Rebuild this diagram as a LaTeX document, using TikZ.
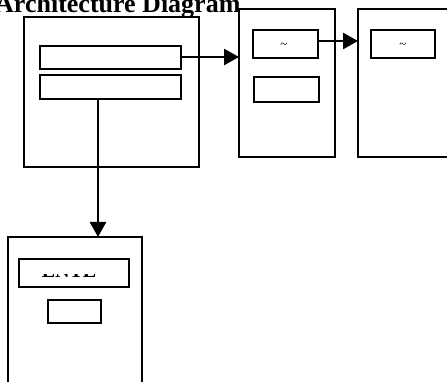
\documentclass[tikz,border=0pt]{standalone}
\usepackage{fontspec}
\setmainfont{Liberation Serif}
\usetikzlibrary{arrows.meta}
\begin{document}
\begin{tikzpicture}[x=1pt,y=-1pt,
  box/.style={draw=black,line width=2.6pt,fill=white},
  conn/.style={line width=2.6pt,-{Triangle[length=15pt,width=16pt]}},
  tilde/.style={font=\fontsize{13}{14}\selectfont,inner sep=0pt}]
\useasboundingbox (0,0) rectangle (447,382);
\clip (0,0) rectangle (447,382);
\fill[white] (0,0) rectangle (447,382);
% title
\node[anchor=base west,inner sep=0pt,font=\fontsize{26}{28}\selectfont\bfseries] (title) at (-5,13) {Architecture Diagram};
% box 1
\draw[box] (24,17) rectangle (199,167);
\draw[box] (40,46) rectangle (181,69);
\draw[box] (40,75) rectangle (181,99);
\coordinate (r1e) at (181,57);
\coordinate (r2s) at (98,99);
% box 2
\draw[box] (239,9) rectangle (335,157);
\draw[box] (253,30) rectangle (318,58);
\node[tilde] (t1) at (284,46) {\textasciitilde};
\draw[box] (254,77) rectangle (319,102);
\coordinate (b2w) at (239,57);
\coordinate (ra) at (318,41);
% box 3
\draw[box] (358,9) rectangle (460,157);
\draw[box] (371,30) rectangle (435,58);
\node[tilde] (t2) at (403,46) {\textasciitilde};
\coordinate (b3w) at (358,41);
% box 4
\draw[box] (8,237) rectangle (142,400);
\draw[box] (19,259) rectangle (129,287);
\begin{scope}
\clip (20,274.3) rectangle (128,286);
\node[anchor=base,inner sep=0pt,font=\fontsize{20}{22}\selectfont\bfseries] (t3) at (69,277.5) {ENTE};
\end{scope}
\draw[box] (48,300) rectangle (101,323);
\coordinate (b4n) at (98,237);
% connectors
\draw[conn] (r1e) -- (b2w);
\draw[conn] (ra) -- (b3w);
\draw[conn] (r2s) -- (b4n);
\end{tikzpicture}
\end{document}
